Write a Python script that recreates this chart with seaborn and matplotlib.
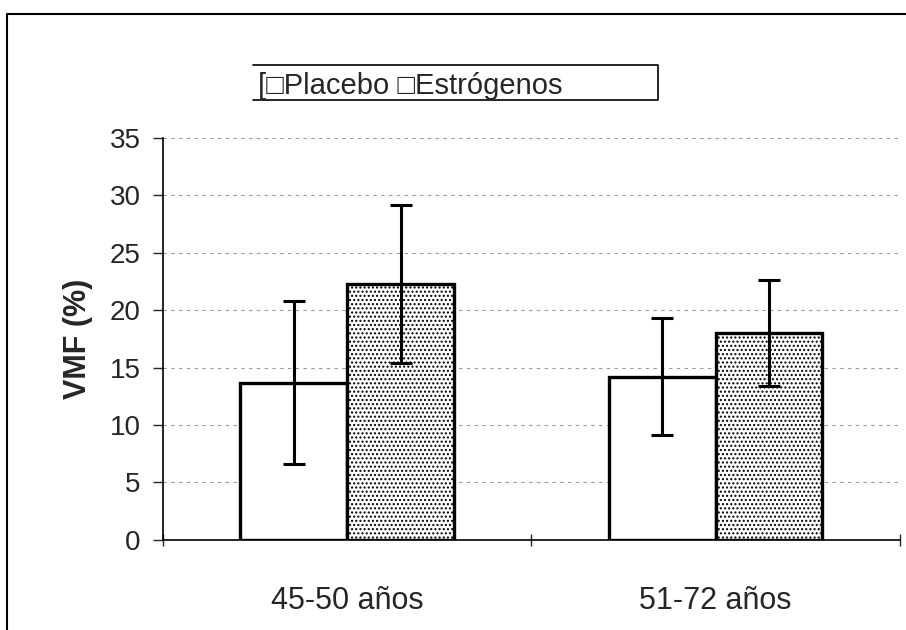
import matplotlib
matplotlib.use("Agg")
from matplotlib import pyplot as plt
from matplotlib.lines import Line2D
import pandas as pd
import seaborn as sns

grupos = ['45-50 años', '51-72 años']
tratamientos = ['Placebo', 'Estrógenos']
vmf_placebo = [13.7, 14.2]
vmf_estrogenos = [22.3, 18.0]
err_placebo = [7.1, 5.1]
err_estrogenos = [6.9, 4.6]

data = pd.DataFrame({
    'Grupo': grupos * 2,
    'Tratamiento': [tratamientos[0]] * 2 + [tratamientos[1]] * 2,
    'VMF': vmf_placebo + vmf_estrogenos,
    'err': err_placebo + err_estrogenos,
})

sns.set_style('white')
plt.rcParams['font.family'] = ['Liberation Sans', 'DejaVu Sans']

fig = plt.figure(figsize=(9.06, 6.3), dpi=100)
ax = fig.add_axes([0.18, 0.143, 0.813, 0.638])

sns.barplot(data=data, x='Grupo', y='VMF', hue='Tratamiento', hue_order=tratamientos,
            palette={'Placebo': 'white', 'Estrógenos': 'white'}, width=0.58,
            errorbar=None, edgecolor='black', linewidth=2.4, ax=ax, legend=False)

# stippled fill on the estrogen bars, error bars from bar centres
plt.rcParams['hatch.linewidth'] = 1.0
for i, bar in enumerate(ax.patches[:4]):
    if i >= 2:
        bar.set_hatch('....')
    xc = bar.get_x() + bar.get_width() / 2
    ax.errorbar(xc, data['VMF'][i], yerr=data['err'][i], color='black',
                capsize=8, elinewidth=2.2, capthick=2.2, zorder=5)

ax.set_ylim(0, 35)
ax.set_xlim(-0.5, 1.5)
ax.set_yticks(range(0, 36, 5))
ax.grid(axis='y', color='#999999', linestyle=(0, (3, 4)), linewidth=0.8)
ax.set_axisbelow(True)
for s in ['top', 'right']:
    ax.spines[s].set_visible(False)
for s in ['left', 'bottom']:
    ax.spines[s].set_color('black')
    ax.spines[s].set_linewidth(1.2)

ax.tick_params(axis='y', length=7, width=1, direction='out', left=True, labelsize=20, pad=9)
ax.tick_params(axis='x', which='major', length=0, labelsize=22, pad=33)
ax.set_xticks([-0.5, 0.5, 1.5], minor=True)
ax.tick_params(axis='x', which='minor', length=8, width=1, direction='inout', bottom=True)
ax.set_xlabel('')
ax.set_ylabel('VMF (%)', fontsize=22, fontweight='bold', labelpad=12)

# legend as plain text box
fig.text(0.285, 0.864, '[□Placebo □Estrógenos', fontsize=21, va='center', ha='left')
fig.add_artist(Line2D([0.279, 0.726, 0.726, 0.279], [0.897, 0.897, 0.841, 0.841],
                      color='black', linewidth=1.2, transform=fig.transFigure))

# outer frame
fig.add_artist(Line2D([0.008, 0.008, 1.0], [0.0, 0.978, 0.978],
                      color='black', linewidth=1.5, transform=fig.transFigure))

plt.savefig('out.png', dpi=100)
